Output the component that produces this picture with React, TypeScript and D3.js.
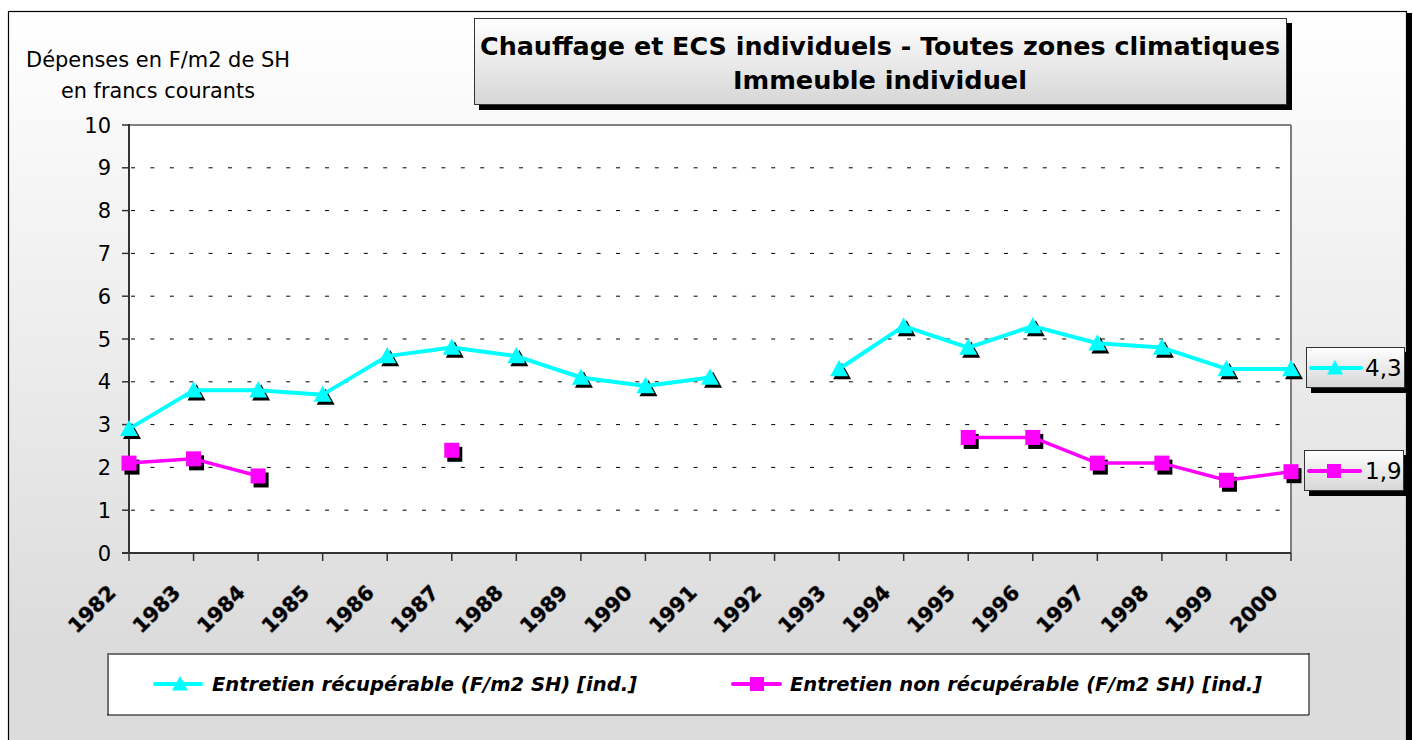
import React from "react";
import * as d3 from "d3";

const years = ["1982","1983","1984","1985","1986","1987","1988","1989","1990","1991","1992","1993","1994","1995","1996","1997","1998","1999","2000"];
const recuperable: (number | null)[] = [2.9,3.8,3.8,3.7,4.6,4.8,4.6,4.1,3.9,4.1,null,4.3,5.3,4.8,5.3,4.9,4.8,4.3,4.3];
const nonRecuperable: (number | null)[] = [2.1,2.2,1.8,null,null,2.4,null,null,null,null,null,null,null,2.7,2.7,2.1,2.1,1.7,1.9];
const yTicks = [0,1,2,3,4,5,6,7,8,9,10];
const seriesNames = ["Entretien récupérable (F/m2 SH) [ind.]", "Entretien non récupérable (F/m2 SH) [ind.]"];
const lastLabels = ["4,3", "1,9"];
const titleLines = ["Chauffage et ECS individuels - Toutes zones climatiques", "Immeuble individuel"];
const yAxisTitle = ["Dépenses en F/m2 de SH", "en francs courants"];

const CYAN = "#00FFFF";
const MAGENTA = "#FF00FF";
const FONT = "'DejaVu Sans', Verdana, sans-serif";

function Triangle({ x, y, fill, s = 9 }: { x: number; y: number; fill: string; s?: number }) {
  return <path d={`M${x},${y - s} L${x + s},${y + s * 0.8} L${x - s},${y + s * 0.8} Z`} fill={fill} />;
}
function Square({ x, y, fill, s = 7.5 }: { x: number; y: number; fill: string; s?: number }) {
  return <rect x={x - s} y={y - s} width={s * 2} height={s * 2} fill={fill} />;
}

export default function App() {
  const W = 1413, H = 740;
  const x = d3.scalePoint<string>().domain(years).range([129, 1291]);
  const y = d3.scaleLinear().domain([0, 10]).range([553, 125]);
  const line = d3.line<number | null>()
    .defined((d) => d != null)
    .x((_, i) => x(years[i]) as number)
    .y((d) => y(d as number));

  const pts = (arr: (number | null)[]) =>
    arr.map((v, i) => (v == null ? null : { px: x(years[i]) as number, py: y(v) })).filter(Boolean) as { px: number; py: number }[];
  const cy = pts(recuperable);
  const mg = pts(nonRecuperable);

  return (
    <svg width={W} height={H} style={{ position: "absolute", left: 0, top: 0 }} fontFamily={FONT}>
      <defs>
        <linearGradient id="bg" x1="0" y1="0" x2="0" y2="1">
          <stop offset="0" stopColor="#ffffff" />
          <stop offset="0.85" stopColor="#dcdcdc" />
          <stop offset="1" stopColor="#dcdcdc" />
        </linearGradient>
        <linearGradient id="box" x1="0" y1="0" x2="0" y2="1">
          <stop offset="0" stopColor="#ffffff" />
          <stop offset="1" stopColor="#d6d6d6" />
        </linearGradient>
      </defs>
      <rect x={0} y={0} width={W} height={H} fill="#ffffff" />
      {/* outer frame */}
      <rect x={1407} y={13} width={5} height={H} fill="#000" />
      <rect x={8.5} y={11.5} width={1398} height={H} fill="url(#bg)" stroke="#000" strokeWidth={1.2} />

      {/* title box */}
      <rect x={479} y={23} width={813} height={87} fill="#000" />
      <rect x={474.5} y={18.5} width={812} height={86} fill="url(#box)" stroke="#333" strokeWidth={1} />
      <text x={880} y={55} textAnchor="middle" fontWeight="bold" fontSize={25} textLength={800} lengthAdjust="spacingAndGlyphs">{titleLines[0]}</text>
      <text x={880} y={89} textAnchor="middle" fontWeight="bold" fontSize={25} textLength={294} lengthAdjust="spacingAndGlyphs">{titleLines[1]}</text>

      {/* y axis title */}
      <text x={158} y={67} textAnchor="middle" fontSize={20.5} textLength={264} lengthAdjust="spacingAndGlyphs">{yAxisTitle[0]}</text>
      <text x={158} y={98} textAnchor="middle" fontSize={20.5} textLength={194} lengthAdjust="spacingAndGlyphs">{yAxisTitle[1]}</text>

      {/* plot area */}
      <rect x={129} y={125} width={1162} height={428} fill="#ffffff" />
      {yTicks.filter((t) => t > 0 && t < 10).map((t) => (
        <line key={t} x1={131} x2={1289} y1={y(t)} y2={y(t)} stroke="#000" strokeWidth={1} strokeDasharray="4 15.4" />
      ))}
      <line x1={129} x2={1291} y1={125} y2={125} stroke="#808080" strokeWidth={2} />
      <line x1={1291} x2={1291} y1={125} y2={553} stroke="#808080" strokeWidth={2} />
      <line x1={129} x2={129} y1={124} y2={554} stroke="#333" strokeWidth={2} />
      <line x1={122} x2={1291} y1={553} y2={553} stroke="#333" strokeWidth={2} />
      {yTicks.map((t) => (
        <g key={t}>
          <line x1={122} x2={129} y1={y(t)} y2={y(t)} stroke="#333" strokeWidth={1.5} />
          <text x={111} y={y(t)} dy="0.36em" textAnchor="end" fontSize={21}>{t}</text>
        </g>
      ))}
      {years.map((yr) => {
        const px = x(yr) as number;
        return (
          <g key={yr}>
            <line x1={px} x2={px} y1={553} y2={561} stroke="#333" strokeWidth={1.5} />
            <text
              transform={`translate(${px - 12},594) rotate(-45)`}
              textAnchor="end"
              fontWeight="bold"
              fontSize={20.5}
              stroke="#9a9a9a"
              strokeWidth={1.2}
              paintOrder="stroke"
              fill="#000"
            >{yr}</text>
          </g>
        );
      })}

      {/* shadows */}
      {cy.map((p, i) => <Triangle key={"cs" + i} x={p.px + 3} y={p.py + 3} fill="#000" />)}
      {mg.map((p, i) => <Square key={"ms" + i} x={p.px + 3} y={p.py + 4} fill="#000" />)}
      {/* lines */}
      <path d={line(recuperable) || ""} fill="none" stroke={CYAN} strokeWidth={4} strokeLinejoin="round" />
      <path d={line(nonRecuperable) || ""} fill="none" stroke={MAGENTA} strokeWidth={3.5} strokeLinejoin="round" />
      {cy.map((p, i) => <Triangle key={"c" + i} x={p.px} y={p.py} fill={CYAN} />)}
      {mg.map((p, i) => <Square key={"m" + i} x={p.px} y={p.py} fill={MAGENTA} />)}

      {/* last value labels */}
      <rect x={1311} y={352} width={99} height={41} fill="#000" />
      <rect x={1306.5} y={347.5} width={98} height={40} fill="url(#box)" stroke="#333" strokeWidth={1} />
      <line x1={1311} x2={1361} y1={368} y2={368} stroke={CYAN} strokeWidth={4} strokeLinecap="round" />
      <Triangle x={1335} y={368} fill={CYAN} s={8} />
      <text x={1365} y={368} dy="0.36em" fontSize={23}>{lastLabels[0]}</text>

      <rect x={1309} y={455} width={100} height={41} fill="#000" />
      <rect x={1304.5} y={450.5} width={99} height={40} fill="url(#box)" stroke="#333" strokeWidth={1} />
      <line x1={1309} x2={1360} y1={471} y2={471} stroke={MAGENTA} strokeWidth={4} strokeLinecap="round" />
      <Square x={1334} y={471} fill={MAGENTA} s={7} />
      <text x={1365} y={471} dy="0.36em" fontSize={23}>{lastLabels[1]}</text>

      {/* legend */}
      <rect x={107} y={653} width={1202} height={62} fill="#ffffff" />
      <line x1={107} x2={1309} y1={654} y2={654} stroke="#707070" strokeWidth={2} />
      <line x1={108} x2={108} y1={653} y2={715} stroke="#707070" strokeWidth={2} />
      <line x1={107} x2={1309} y1={715} y2={715} stroke="#000" strokeWidth={1} />
      <line x1={1309} x2={1309} y1={653} y2={715} stroke="#000" strokeWidth={1} />
      <line x1={155} x2={201} y1={684} y2={684} stroke={CYAN} strokeWidth={4} strokeLinecap="round" />
      <Triangle x={180} y={684} fill={CYAN} s={8} />
      <text x={212} y={684} dy="0.36em" fontWeight="bold" fontStyle="italic" fontSize={20} textLength={425} lengthAdjust="spacingAndGlyphs">{seriesNames[0]}</text>
      <line x1={733} x2={780} y1={684} y2={684} stroke={MAGENTA} strokeWidth={4} strokeLinecap="round" />
      <Square x={757} y={684} fill={MAGENTA} s={7} />
      <text x={790} y={684} dy="0.36em" fontWeight="bold" fontStyle="italic" fontSize={20} textLength={472} lengthAdjust="spacingAndGlyphs">{seriesNames[1]}</text>
    </svg>
  );
}
